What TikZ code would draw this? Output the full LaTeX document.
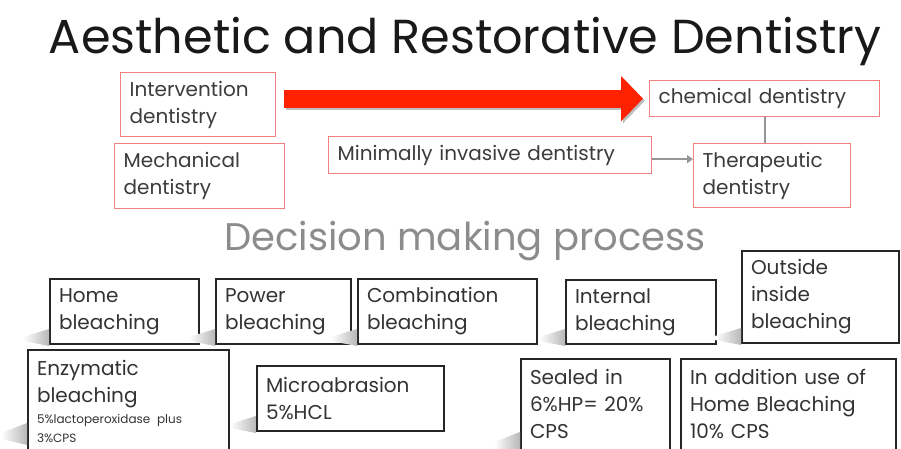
\documentclass[tikz,border=0pt]{standalone}
\usepackage{fontspec}
\setmainfont{Poppins}
\usepackage{tikz}
\usetikzlibrary{arrows.meta}
\usetikzlibrary{positioning}

\definecolor{pinkline}{RGB}{240,128,128}
\definecolor{txtgray}{RGB}{60,60,60}
\definecolor{linkgray}{RGB}{150,150,150}
\definecolor{arrowred}{RGB}{255,34,0}

\tikzstyle{pinkbox}=[draw=pinkline,line width=1.3pt,fill=white,text=txtgray,
  align=left,inner xsep=9pt,inner ysep=4pt,anchor=north west,
  font=\fontsize{20}{27}\selectfont]
\tikzstyle{bleachbox}=[draw=black!85,line width=2pt,fill=white,text=black!80,
  align=left,inner xsep=9pt,inner ysep=4pt,anchor=north west,
  font=\fontsize{20}{27}\selectfont]
\tikzstyle{boxshadow}=[left color=white,right color=black!28]

\begin{document}
\begin{tikzpicture}[x=1pt,y=-1pt]
  \useasboundingbox (0,0) rectangle (901,448);
  \clip (0,0) rectangle (901,448);

  \node[anchor=base,text=black!90,font=\fontsize{47.7}{52}\selectfont] (title) at (465,53)
    {Aesthetic and Restorative Dentistry};

  % upper part
  \node[pinkbox,text width=137pt,minimum height=64pt] (intv) at (120,72) {Intervention\\dentistry};
  \node[pinkbox,text width=152pt,minimum height=65pt] (mech) at (114,143) {Mechanical\\dentistry};
  \node[pinkbox,text width=212pt,minimum height=36pt] (chem) at (649,80) {chemical dentistry};
  \node[pinkbox,text width=305pt,minimum height=37pt] (mini) at (328,136) {Minimally invasive dentistry};
  \node[pinkbox,text width=139pt,minimum height=64pt] (ther) at (693,143) {Therapeutic\\dentistry};

  \draw[line width=18pt,draw=gray,opacity=0.5,shorten <=8pt,shorten >=6pt,
    -{Triangle[length=22pt,width=44pt]},transform canvas={xshift=2pt,yshift=-2pt}]
    (intv.east |- chem.west) -- (chem.west);
  \draw[line width=18pt,draw=arrowred,shorten <=8pt,shorten >=6pt,
    -{Triangle[length=22pt,width=44pt]}] (intv.east |- chem.west) -- (chem.west);

  \draw[linkgray,line width=2pt] (chem.south) -- (chem.south |- ther.north);
  \draw[linkgray,line width=2pt,-{Triangle[length=6pt,width=8pt]}]
    ([yshift=-4pt]mini.east) -- ([yshift=-4pt]mini.east -| ther.west);

  \node[anchor=base,text=black!45,font=\fontsize{38.5}{42}\selectfont] (decision) at (465,250)
    {Decision making process};

  % bleaching options
  \node[bleachbox,text width=131pt,minimum height=65pt] (home) at (49,278) {Home\\bleaching};
  \node[bleachbox,text width=117pt,minimum height=65pt] (power) at (215,278) {Power\\bleaching};
  \node[bleachbox,text width=161pt,minimum height=65pt] (comb) at (357,278) {Combination\\bleaching};
  \node[bleachbox,text width=132pt,minimum height=64pt] (intl) at (565,279) {Internal\\bleaching};
  \node[bleachbox,text width=139pt,minimum height=92pt] (outs) at (741,250) {Outside\\inside\\bleaching};
  \node[bleachbox,text width=183pt,inner ysep=10pt] (enz) at (27,349)
    {Enzymatic\\bleaching\par
     {\fontsize{12}{21}\selectfont 5\%lactoperoxidase plus\\[-2pt]3\%CPS\rule[-20pt]{0pt}{1pt}\par}};
  \node[bleachbox,text width=169pt,minimum height=65pt] (micro) at (256,365) {Microabrasion\\5\%HCL};
  \node[bleachbox,text width=131pt,inner ysep=10pt] (seal) at (520,358)
    {Sealed in\\6\%HP= 20\%\\CPS\rule[-20pt]{0pt}{1pt}};
  \node[bleachbox,text width=197pt,inner ysep=10pt] (addn) at (680,358)
    {In addition use of\\Home Bleaching\\10\% CPS\rule[-20pt]{0pt}{1pt}};

  \foreach \n in {home,power,comb,intl,outs,micro}
    \shade[boxshadow] ([yshift=16pt]\n.south west) -- ([xshift=-26pt,yshift=8pt]\n.south west)
      -- ([xshift=-26pt,yshift=4pt]\n.south west) -- ([yshift=-1pt]\n.south west) -- cycle;
  \foreach \n in {enz,seal}
    \shade[boxshadow] ([yshift=-74pt]\n.north west) -- ([xshift=-26pt,yshift=-84pt]\n.north west)
      -- ([xshift=-26pt,yshift=-90pt]\n.north west) -- ([yshift=-96pt]\n.north west) -- cycle;
\end{tikzpicture}
\end{document}
